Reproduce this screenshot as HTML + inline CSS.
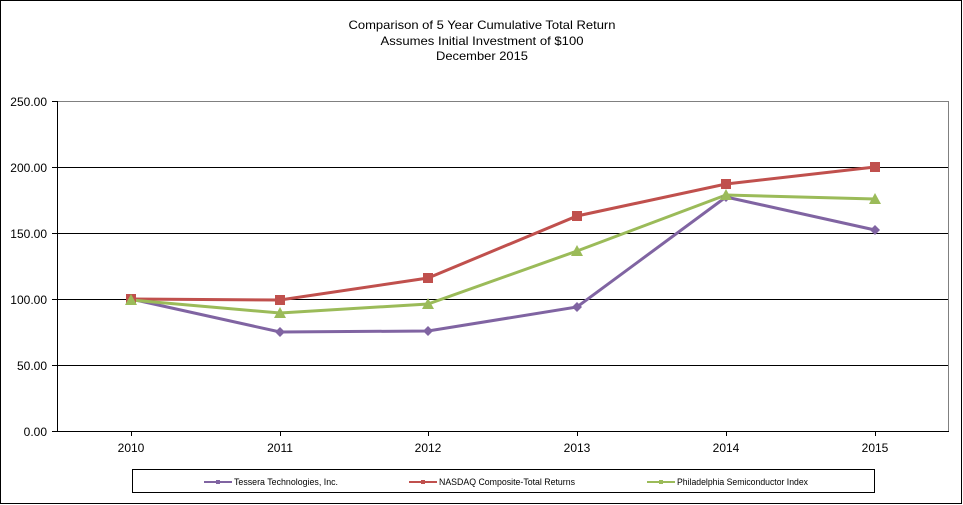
<!DOCTYPE html>
<html><head><meta charset="utf-8"><style>
html,body{margin:0;padding:0;background:#fff}
svg{display:block}
text{font-family:"Liberation Sans",Arial,sans-serif;fill:#000}
</style></head><body>
<svg width="963" height="505" xmlns="http://www.w3.org/2000/svg">
<rect x="0.5" y="0.5" width="961" height="503" fill="#fff" stroke="#000"/>
<g font-size="12" text-anchor="middle">
<text x="482" y="29" textLength="267" lengthAdjust="spacingAndGlyphs">Comparison of 5 Year Cumulative Total Return</text>
<text x="482" y="45" textLength="203" lengthAdjust="spacingAndGlyphs">Assumes Initial Investment of $100</text>
<text x="482" y="60" textLength="92" lengthAdjust="spacingAndGlyphs">December 2015</text>
</g>
<!-- gridlines -->
<g stroke="#000" stroke-width="1">
<line x1="57" y1="167.5" x2="949" y2="167.5"/>
<line x1="57" y1="233.5" x2="949" y2="233.5"/>
<line x1="57" y1="299.5" x2="949" y2="299.5"/>
<line x1="57" y1="365.5" x2="949" y2="365.5"/>
</g>
<rect x="57.5" y="101.5" width="891" height="330" fill="none" stroke="#808080"/>
<line x1="57.5" y1="101" x2="57.5" y2="432" stroke="#000"/>
<line x1="57" y1="431.5" x2="949" y2="431.5" stroke="#000"/>
<g stroke="#000">
<line x1="52" y1="101.5" x2="57" y2="101.5"/><line x1="52" y1="167.5" x2="57" y2="167.5"/>
<line x1="52" y1="233.5" x2="57" y2="233.5"/><line x1="52" y1="299.5" x2="57" y2="299.5"/>
<line x1="52" y1="365.5" x2="57" y2="365.5"/><line x1="52" y1="431.5" x2="57" y2="431.5"/>
<line x1="131.5" y1="431" x2="131.5" y2="436"/><line x1="280.5" y1="431" x2="280.5" y2="436"/>
<line x1="428.5" y1="431" x2="428.5" y2="436"/><line x1="577.5" y1="431" x2="577.5" y2="436"/>
<line x1="726.5" y1="431" x2="726.5" y2="436"/><line x1="875.5" y1="431" x2="875.5" y2="436"/>
</g>
<g font-size="12" text-anchor="end">
<text x="47" y="106">250.00</text><text x="47" y="172">200.00</text><text x="47" y="238">150.00</text>
<text x="47" y="304">100.00</text><text x="47" y="370">50.00</text><text x="47" y="436">0.00</text>
</g>
<g font-size="12" text-anchor="middle">
<text x="131" y="452">2010</text><text x="280" y="452">2011</text><text x="428" y="452">2012</text>
<text x="577" y="452">2013</text><text x="726" y="452">2014</text><text x="875" y="452">2015</text>
</g>
<!-- series -->
<polyline fill="none" stroke="#8064a2" stroke-width="3" points="131,299 280,332 428,331 577,307 726,197 875,230"/>
<polyline fill="none" stroke="#c0504d" stroke-width="3" points="131,299 280,300 428,278 577,216 726,184 875,167"/>
<polyline fill="none" stroke="#9bbb59" stroke-width="3" points="131,300 280,313 428,304 577,251 726,195 875,199"/>
<g fill="#8064a2">
<path d="M131,294 l5,5 l-5,5 l-5,-5z"/><path d="M280,327 l5,5 l-5,5 l-5,-5z"/><path d="M428,326 l5,5 l-5,5 l-5,-5z"/>
<path d="M577,302 l5,5 l-5,5 l-5,-5z"/><path d="M726,192 l5,5 l-5,5 l-5,-5z"/><path d="M875,225 l5,5 l-5,5 l-5,-5z"/>
</g>
<g fill="#c0504d">
<rect x="126" y="294" width="10" height="10"/><rect x="275" y="295" width="10" height="10"/><rect x="423" y="273" width="10" height="10"/>
<rect x="572" y="211" width="10" height="10"/><rect x="721" y="179" width="10" height="10"/><rect x="870" y="162" width="10" height="10"/>
</g>
<g fill="#9bbb59">
<path d="M131,294 l6,11 h-12z"/><path d="M280,307 l6,11 h-12z"/><path d="M428,298 l6,11 h-12z"/>
<path d="M577,245 l6,11 h-12z"/><path d="M726,189 l6,11 h-12z"/><path d="M875,193 l6,11 h-12z"/>
</g>
<!-- legend -->
<rect x="132.5" y="469.5" width="742" height="23" fill="#fff" stroke="#000"/>
<g stroke-width="2">
<line x1="204" y1="482" x2="232" y2="482" stroke="#8064a2"/>
<line x1="409" y1="482" x2="437" y2="482" stroke="#c0504d"/>
<line x1="647" y1="482" x2="675" y2="482" stroke="#9bbb59"/>
</g>
<rect x="216" y="480" width="4" height="4" fill="#8064a2"/>
<rect x="421" y="480" width="4" height="4" fill="#c0504d"/>
<rect x="659" y="480" width="4" height="4" fill="#9bbb59"/>
<g font-size="9">
<text x="234" y="485" textLength="104" lengthAdjust="spacingAndGlyphs">Tessera Technologies, Inc.</text>
<text x="439" y="485" textLength="136" lengthAdjust="spacingAndGlyphs">NASDAQ Composite-Total Returns</text>
<text x="677" y="485" textLength="131" lengthAdjust="spacingAndGlyphs">Philadelphia Semiconductor Index</text>
</g>
</svg>
</body></html>
